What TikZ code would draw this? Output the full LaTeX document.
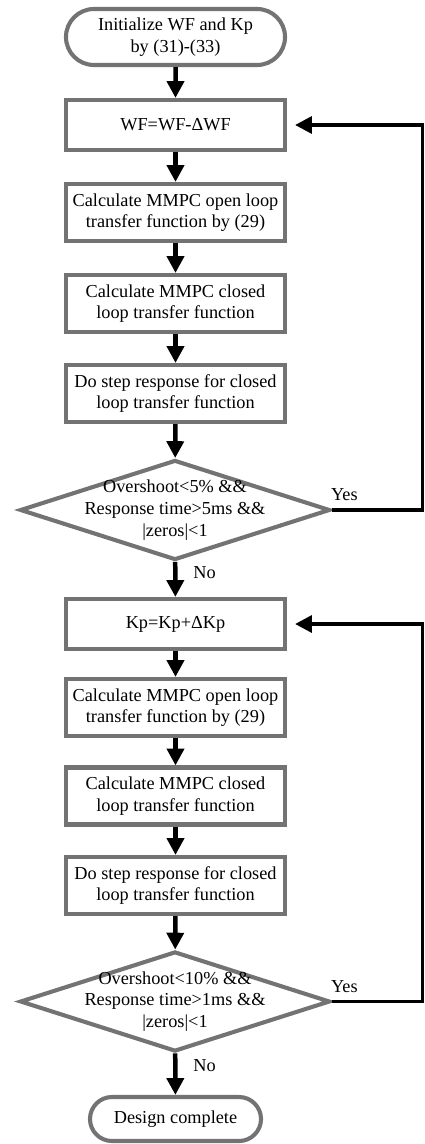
\documentclass[tikz,border=0pt]{standalone}
\usepackage{fontspec}
\setmainfont{Liberation Serif}
\usetikzlibrary{graphs, shapes.geometric, shapes.misc, arrows.meta}
\definecolor{boxgray}{HTML}{737373}

\begin{document}
\begin{tikzpicture}[x=0.025cm, y=-0.025cm,
        every node/.style={font=\fontsize{13}{15.4}\selectfont},
        box/.style={draw=boxgray, line width=2.9pt, fill=white, align=center,
            minimum width=5.475cm, minimum height=1.425cm, inner sep=0pt},
        onebox/.style={box, minimum height=1.25cm},
        term/.style={box, rounded rectangle},
        test/.style={draw=boxgray, line width=2.9pt, fill=white, align=center, diamond,
            aspect=3, inner sep=-0.5cm, minimum width=7.75cm, minimum height=2.5cm},
        flow/.style={-{Triangle[length=0.42cm, width=0.42cm]}, line width=3.2pt},
        backline/.style={flow, line width=2.6pt, shorten >=0.2cm}]
    \useasboundingbox (0,0) rectangle (424,1144);

    \node[term, minimum height=1.4cm] (init) at (175.5,37) {Initialize WF and Kp\\by (31)-(33)};
    \node[onebox] (wf) at (175.5,125) {WF=WF-ΔWF};
    \node[box] (open1) at (175.5,212.5) {Calculate MMPC open loop\\transfer function by (29)};
    \node[box] (closed1) at (175.5,303.5) {Calculate MMPC closed\\loop transfer function};
    \node[box] (step1) at (175.5,393.5) {Do step response for closed\\loop transfer function};
    \node[test] (check1) at (175,510) {Overshoot<5\% \&\&\\Response time>5ms \&\&\\|zeros|<1};

    \node[onebox] (kp) at (175.5,624) {Kp=Kp+ΔKp};
    \node[box] (open2) at (175.5,707.5) {Calculate MMPC open loop\\transfer function by (29)};
    \node[box] (closed2) at (175.5,796) {Calculate MMPC closed\\loop transfer function};
    \node[box] (step2) at (175.5,885.5) {Do step response for closed\\loop transfer function};
    \node[test] (check2) at (175,1001.5) {Overshoot<10\% \&\&\\Response time>1ms \&\&\\|zeros|<1};
    \node[term, minimum width=4.275cm, minimum height=1.1cm] (done) at (175.5,1119) {Design complete};

    \coordinate (edge) at (422.5,0);

    \graph[use existing nodes, edges={flow}] {
        init -> wf -> open1 -> closed1 -> step1 -> check1
            ->[edge node={node[right=8pt, pos=0.3]{No}}] kp
            -> open2 -> closed2 -> step2 -> check2
            ->[edge node={node[right=8pt, pos=0.3]{No}}] done;
    };

    % yes branches go back up
    \draw[backline] (check1.east) node[anchor=south west, inner sep=2pt, xshift=-4pt, yshift=3pt]{Yes}
        -- (check1.east -| edge) |- (wf.east);
    \draw[backline] (check2.east) node[anchor=south west, inner sep=2pt, xshift=-4pt, yshift=3pt]{Yes}
        -- (check2.east -| edge) |- (kp.east);
\end{tikzpicture}
\end{document}
